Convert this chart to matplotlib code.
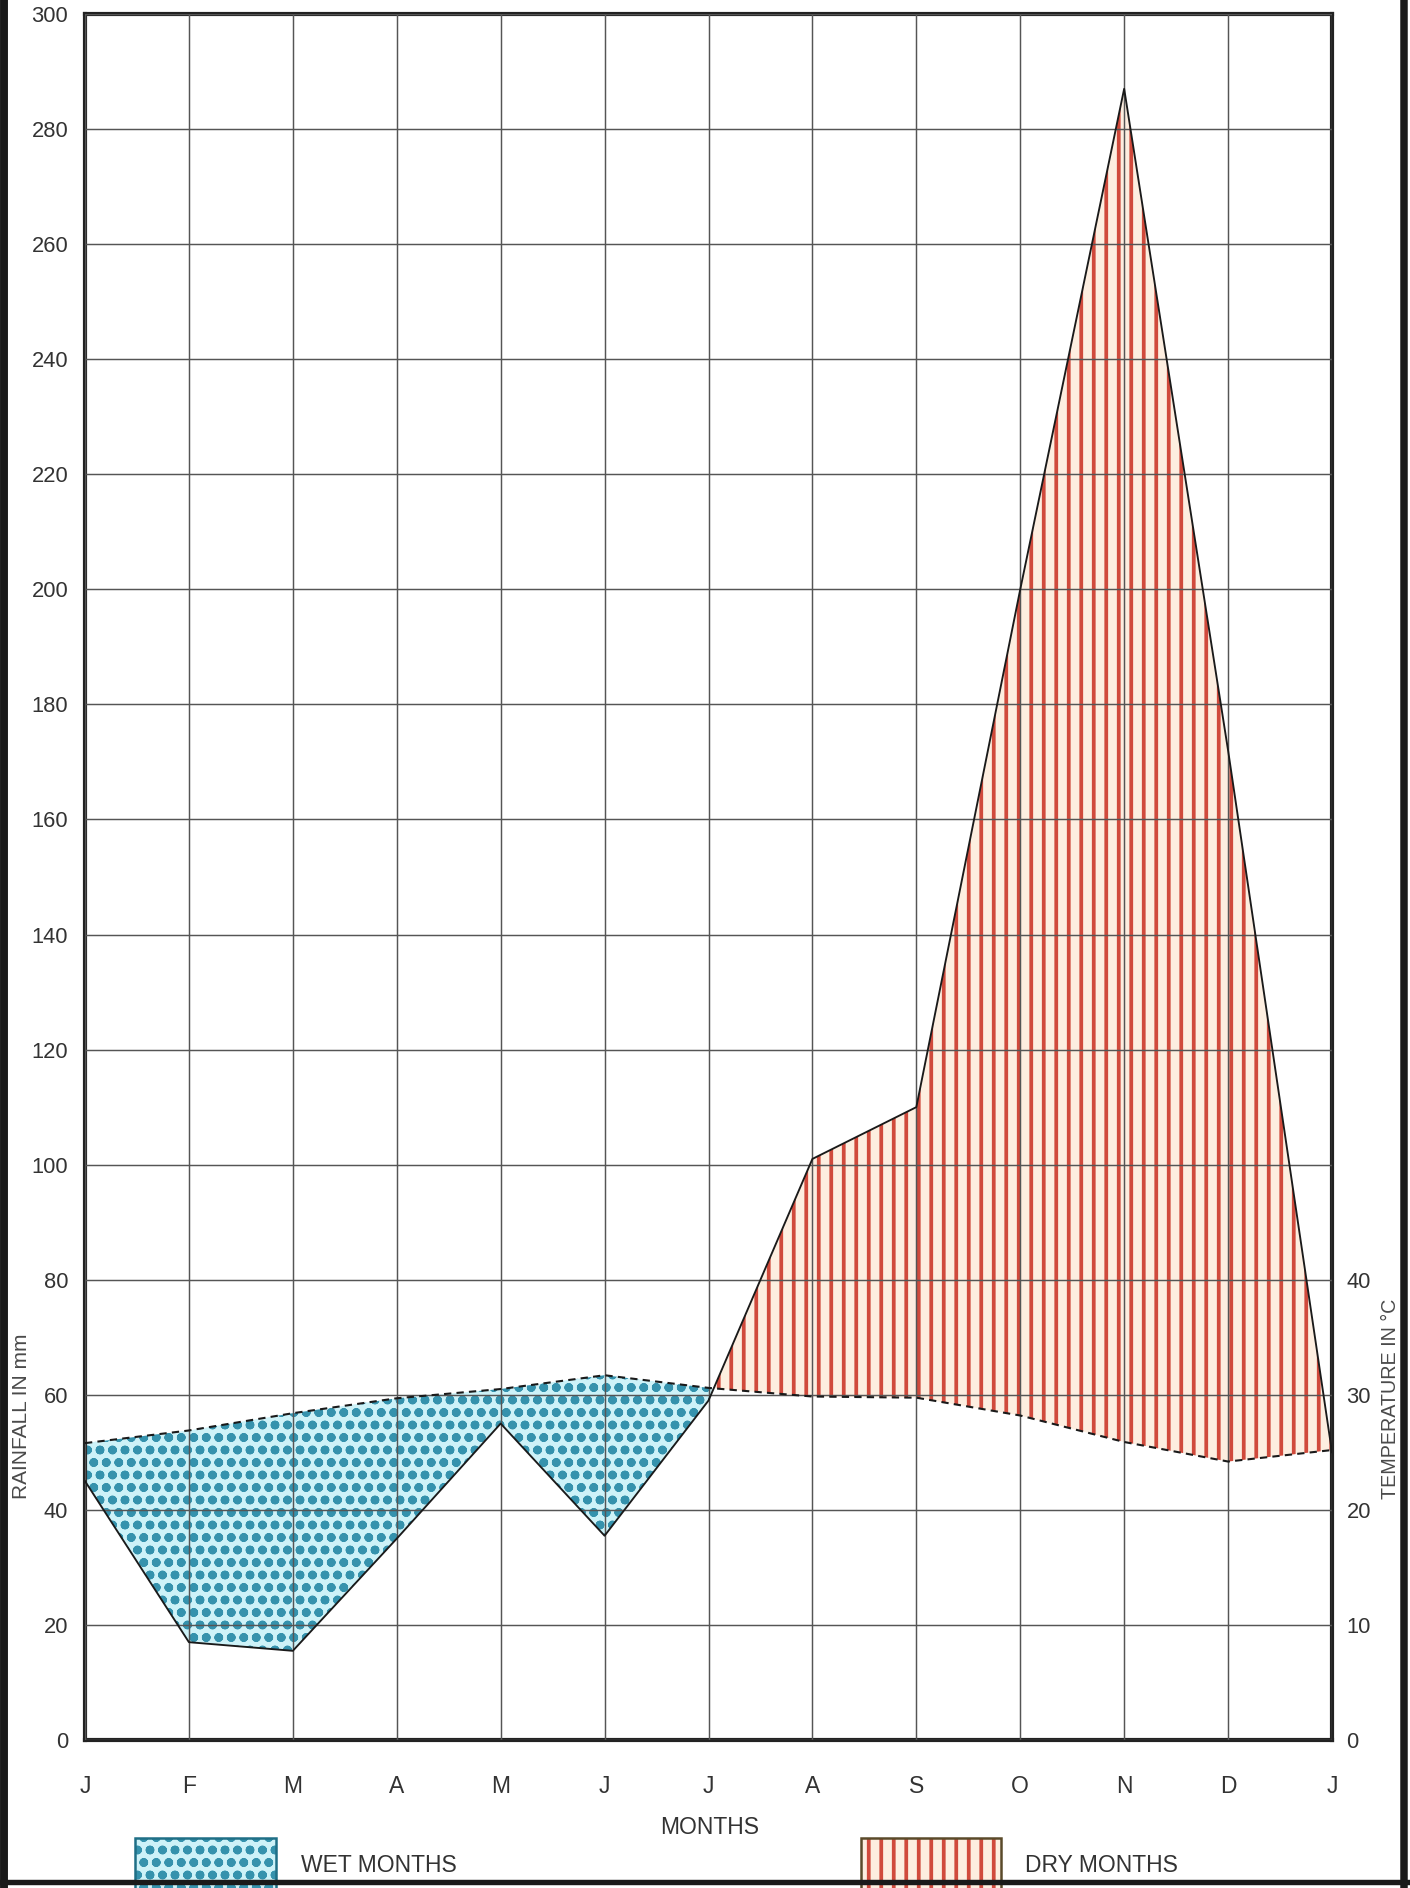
import numpy as np
import matplotlib.pyplot as plt
from matplotlib.patches import Rectangle
from matplotlib.lines import Line2D

# data
months = ['J', 'F', 'M', 'A', 'M', 'J', 'J', 'A', 'S', 'O', 'N', 'D', 'J']
rainfall = [45, 17, 15.5, 35, 55, 35.5, 59, 101, 110, 200, 287, 172, 50]          # mm
temperature = [25.8, 26.9, 28.4, 29.7, 30.5, 31.7, 30.6, 29.85, 29.75, 28.2, 25.9, 24.2, 25.2]  # °C
rain_ticks = list(range(0, 301, 20))
temp_ticks = [0, 10, 20, 30, 40]

plt.rcParams['font.family'] = ['Liberation Sans Narrow', 'Liberation Sans', 'DejaVu Sans']
plt.rcParams['hatch.linewidth'] = 1.8

W, H = 1410, 1888
fig = plt.figure(figsize=(W / 150, H / 150), dpi=150)
ax = fig.add_axes([85 / W, 1 - 1740 / H, (1332 - 85) / W, (1740 - 14) / H])

x = np.arange(len(months))
rain = np.array(rainfall)
temp_mm = np.array(temperature) * 2  # 1 °C = 2 mm on this chart

wet_face, wet_dot = '#cdf2f8', '#3592ad'
dry_face, dry_line = '#fdeee0', '#d04a3c'
wet_hatch, dry_hatch = 'oo', '||'

# wet / dry areas
ax.fill_between(x, rain, temp_mm, where=temp_mm >= rain, interpolate=True,
                facecolor=wet_face, edgecolor=wet_dot, hatch=wet_hatch, linewidth=0, zorder=1)
ax.fill_between(x, rain, temp_mm, where=rain >= temp_mm, interpolate=True,
                facecolor=dry_face, edgecolor=dry_line, hatch=dry_hatch, linewidth=0, zorder=1)

ax.plot(x, rain, color='#1a1a1a', lw=0.9, zorder=3)
ax.plot(x, temp_mm, color='#1a1a1a', lw=1.0, ls=(0, (3.5, 2.5)), zorder=3)

ax.set_xlim(0, 12)
ax.set_ylim(0, 300)
ax.set_xticks(x)
ax.set_xticklabels(months)
ax.set_yticks(rain_ticks)
ax.grid(True, color='#555555', lw=0.7)
ax.set_axisbelow(False)
ax.tick_params(axis='x', length=0, pad=17, labelsize=11, labelcolor='#333333')
ax.tick_params(axis='y', length=0, pad=8, labelsize=10.5, labelcolor='#333333')
for s in ax.spines.values():
    s.set_linewidth(2.0)
    s.set_color('#222222')

# temperature axis on the right
ax2 = ax.twinx()
ax2.set_ylim(0, 150)
ax2.set_yticks(temp_ticks)
ax2.tick_params(length=0, pad=7, labelsize=10.5, labelcolor='#333333')
for s in ax2.spines.values():
    s.set_visible(False)

fig.text(22 / W, 1 - 1416 / H, 'RAINFALL IN mm', rotation=90, ha='center', va='center',
         fontsize=10, color='#4a4a4a')
fig.text(1391 / W, 1 - 1399 / H, 'TEMPERATURE IN °C', rotation=90, ha='center', va='center',
         fontsize=9.5, color='#4a4a4a')
fig.text(710 / W, 1 - 1828 / H, 'MONTHS', ha='center', va='center', fontsize=11, color='#333333')

# legend swatches
wet_box = Rectangle((135 / W, 1 - 1890 / H), 141 / W, 52 / H, transform=fig.transFigure,
                    facecolor=wet_face, edgecolor=wet_dot, hatch=wet_hatch, linewidth=0)
dry_box = Rectangle((861 / W, 1 - 1890 / H), 140 / W, 52 / H, transform=fig.transFigure,
                    facecolor=dry_face, edgecolor=dry_line, hatch=dry_hatch, linewidth=0)
fig.add_artist(wet_box)
fig.add_artist(dry_box)
fig.add_artist(Rectangle((135 / W, 1 - 1890 / H), 141 / W, 52 / H, transform=fig.transFigure,
                         facecolor='none', edgecolor='#1f6f86', linewidth=1.2))
fig.add_artist(Rectangle((861 / W, 1 - 1890 / H), 140 / W, 52 / H, transform=fig.transFigure,
                         facecolor='none', edgecolor='#5a4a2a', linewidth=1.2))
fig.text(301 / W, 1 - 1865 / H, 'WET MONTHS', va='center', fontsize=11, color='#333333')
fig.text(1025 / W, 1 - 1865 / H, 'DRY MONTHS', va='center', fontsize=11, color='#333333')

# page frame
fig.add_artist(Line2D([4 / W, 4 / W], [0, 1], transform=fig.transFigure, color='#1a1a1a', lw=3.8))
fig.add_artist(Line2D([1404 / W, 1404 / W], [0, 1], transform=fig.transFigure, color='#1a1a1a', lw=3.6))
fig.add_artist(Line2D([0, 1], [1 - 1882 / H, 1 - 1882 / H], transform=fig.transFigure,
                      color='#1a1a1a', lw=2.6))

plt.savefig('out.png', dpi=150)
plt.close()
